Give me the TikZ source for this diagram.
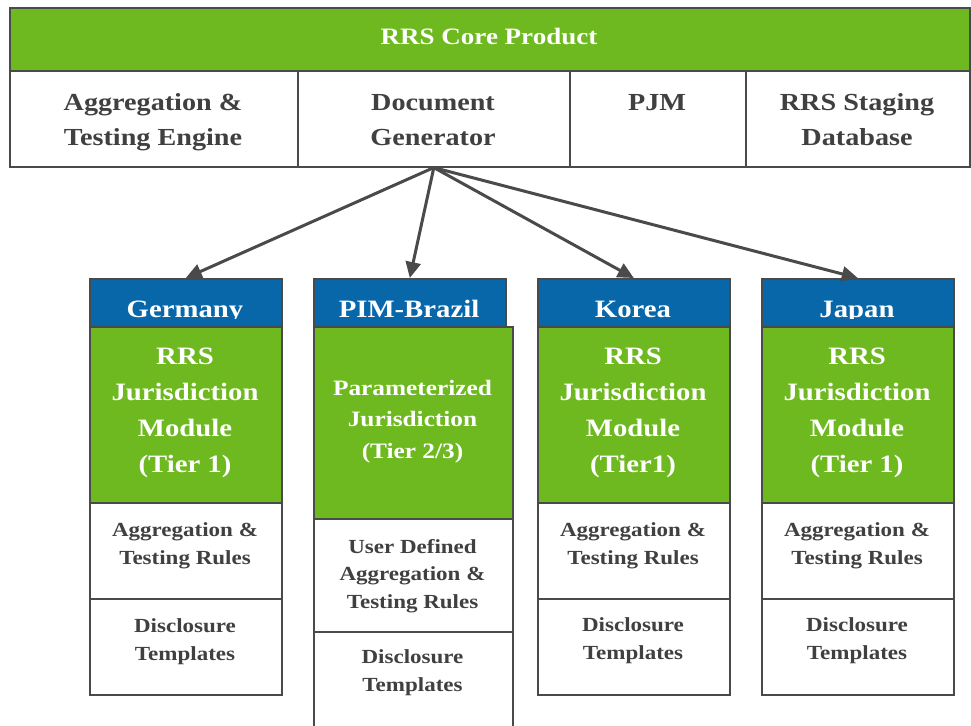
\documentclass[tikz,border=0pt]{standalone}
\usepackage{fontspec}
\setmainfont{Liberation Serif}[FakeStretch=1.15]
\usetikzlibrary{arrows.meta}
\definecolor{leaf}{HTML}{6DB91F}
\definecolor{sea}{HTML}{0767A9}
\definecolor{rim}{HTML}{4A4A4A}
\definecolor{ink}{HTML}{404040}
\tikzset{
  cell/.style={draw=rim, line width=1.6pt, inner sep=0pt, anchor=north west},
  greencell/.style={cell, fill=leaf},
  bluecell/.style={cell, fill=sea},
  whitecell/.style={cell, fill=white},
  % labels are placed by the baseline of their last line
  lbl/.style={anchor=base, align=center, inner sep=0pt},
  title/.style={lbl, text=white, font=\fontsize{23.5}{30}\selectfont\bfseries},
  parttext/.style={lbl, text=ink, font=\fontsize{24.5}{35}\selectfont\bfseries},
  headtext/.style={lbl, text=white, font=\fontsize{25}{30}\selectfont\bfseries},
  modtext/.style={lbl, text=white, font=\fontsize{25}{35.7}\selectfont\bfseries},
  paramtext/.style={lbl, text=white, font=\fontsize{22}{31.5}\selectfont\bfseries},
  ruletext/.style={lbl, text=ink, font=\fontsize{20}{27.5}\selectfont\bfseries},
  link/.style={draw=rim, line width=3pt, -{Triangle[length=16pt,width=15pt]}}
}
\begin{document}
\begin{tikzpicture}[x=1pt,y=-1pt]
\useasboundingbox (0,0) rectangle (971,725);

% core product
\node[greencell, minimum width=960pt, minimum height=63pt] (core) at (9,7) {};
\node[title] (coret) at (489,45) {RRS Core Product};
\node[whitecell, minimum width=288pt, minimum height=96pt] (agg) at (9,70) {};
\node[whitecell, minimum width=272pt, minimum height=96pt] (doc) at (297,70) {};
\node[whitecell, minimum width=176pt, minimum height=96pt] (pjm) at (569,70) {};
\node[whitecell, minimum width=224pt, minimum height=96pt] (stg) at (745,70) {};
\node[parttext] (aggt) at (153,145) {Aggregation \&\\Testing Engine};
\node[parttext] (doct) at (433,145) {Document\\Generator};
\node[parttext] (pjmt) at (657,110) {PJM};
\node[parttext] (stgt) at (857,145) {RRS Staging\\Database};

% Germany
\node[bluecell, minimum width=192pt, minimum height=48pt] (gerH) at (89,278) {};
\begin{scope}
  \clip (89,278) rectangle (281,318);
  \node[headtext] (gerHt) at (185,317) {Germany};
\end{scope}
\node[greencell, minimum width=192pt, minimum height=176pt] (gerM) at (89,326) {};
\node[whitecell, minimum width=192pt, minimum height=96pt] (gerR) at (89,502) {};
\node[whitecell, minimum width=192pt, minimum height=96pt] (gerD) at (89,598) {};
\node[modtext] (gerMt) at (185,472) {RRS\\Jurisdiction\\Module\\(Tier 1)};
\node[ruletext] (gerRt) at (185,564) {Aggregation \&\\Testing Rules};
\node[ruletext] (gerDt) at (185,660) {Disclosure\\Templates};

% PIM-Brazil
\node[bluecell, minimum width=192pt, minimum height=48pt] (braH) at (313,278) {};
\begin{scope}
  \clip (313,278) rectangle (505,318);
  \node[headtext] (braHt) at (409,317) {PIM-Brazil};
\end{scope}
\node[greencell, minimum width=199pt, minimum height=192pt] (braM) at (313,326) {};
\node[whitecell, minimum width=199pt, minimum height=113pt] (braR) at (313,518) {};
\node[whitecell, minimum width=199pt, minimum height=120pt] (braD) at (313,631) {};
\node[paramtext] (braMt) at (412.5,458) {Parameterized\\Jurisdiction\\(Tier 2/3)};
\node[ruletext] (braRt) at (412.5,608) {User Defined\\Aggregation \&\\Testing Rules};
\node[ruletext] (braDt) at (412.5,691) {Disclosure\\Templates};

% Korea
\node[bluecell, minimum width=192pt, minimum height=48pt] (korH) at (537,278) {};
\begin{scope}
  \clip (537,278) rectangle (729,318);
  \node[headtext] (korHt) at (633,317) {Korea};
\end{scope}
\node[greencell, minimum width=192pt, minimum height=176pt] (korM) at (537,326) {};
\node[whitecell, minimum width=192pt, minimum height=96pt] (korR) at (537,502) {};
\node[whitecell, minimum width=192pt, minimum height=96pt] (korD) at (537,598) {};
\node[modtext] (korMt) at (633,472) {RRS\\Jurisdiction\\Module\\(Tier1)};
\node[ruletext] (korRt) at (633,564) {Aggregation \&\\Testing Rules};
\node[ruletext] (korDt) at (633,659) {Disclosure\\Templates};

% Japan
\node[bluecell, minimum width=192pt, minimum height=48pt] (japH) at (761,278) {};
\begin{scope}
  \clip (761,278) rectangle (953,318);
  \node[headtext] (japHt) at (857,317) {Japan};
\end{scope}
\node[greencell, minimum width=192pt, minimum height=176pt] (japM) at (761,326) {};
\node[whitecell, minimum width=192pt, minimum height=96pt] (japR) at (761,502) {};
\node[whitecell, minimum width=192pt, minimum height=96pt] (japD) at (761,598) {};
\node[modtext] (japMt) at (857,472) {RRS\\Jurisdiction\\Module\\(Tier 1)};
\node[ruletext] (japRt) at (857,564) {Aggregation \&\\Testing Rules};
\node[ruletext] (japDt) at (857,659) {Disclosure\\Templates};

% links from the document generator
\draw[link] (doc.south) -- (gerH.north);
\draw[link] (doc.south) -- (braH.north);
\draw[link] (doc.south) -- (korH.north);
\draw[link] (doc.south) -- (japH.north);
\end{tikzpicture}
\end{document}
